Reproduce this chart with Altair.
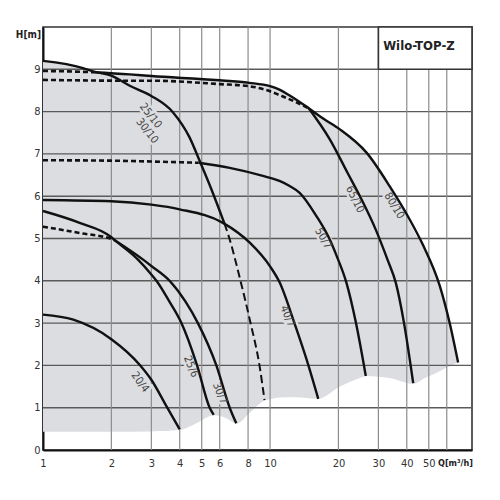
import altair as alt
import pandas as pd

FONT = "DejaVu Sans Condensed, Liberation Sans Narrow, sans-serif"

# ---------------- data ----------------
x_ticks = [1, 2, 3, 4, 5, 6, 8, 10, 20, 30, 40, 50]
x_grid_full = [2, 3, 4, 5, 6, 8, 10, 20, 30]
x_grid_short = [40, 50, 60]
y_grid = [1, 2, 3, 4, 5, 6, 7, 8, 9]
y_ticks = [0, 1, 2, 3, 4, 5, 6, 7, 8, 9]

# grey operating field
area_q = [1, 1.5, 1.66, 2, 3, 4, 4.74, 5.65, 6.42, 7.1, 8.14, 9.45, 10, 11, 13, 16.3,
          20.3, 24.8, 26.4, 30, 33.6, 38, 42.7, 48, 54, 60, 67.3]
area_top = [9.2, 9.03, 8.95, 8.9, 8.84, 8.8, 8.77, 8.75, 8.73, 8.71, 8.68, 8.63, 8.6, 8.52,
            8.28, 7.93, 7.58, 7.2, 7.05, 6.65, 6.24, 5.78, 5.2, 4.75, 4.1, 3.3, 2.07]
area_bottom = [0.43, 0.43, 0.43, 0.43, 0.44, 0.47, 0.63, 0.82, 0.75, 0.62, 0.88, 1.17, 1.2, 1.24,
               1.25, 1.21, 1.5, 1.7, 1.75, 1.73, 1.7, 1.62, 1.56, 1.7, 1.82, 1.95, 2.07]

# curve segments
s20_4_q = [1, 1.36, 2, 2.67, 3, 3.5, 4.0]
s20_4_h = [3.2, 3.08, 2.62, 2.01, 1.66, 1.03, 0.49]

s25_6_q = [1, 1.45, 2, 2.07, 2.62, 3, 3.16, 3.61, 4.07, 4.77, 5.42, 5.65]
s25_6_h = [5.65, 5.37, 5.03, 4.96, 4.5, 4.15, 4.0, 3.5, 3.0, 2.0, 1.0, 0.83]

d30_7_q = [1, 1.45, 2, 2.07]
d30_7_h = [5.28, 5.13, 4.99, 4.96]
s30_7_q = [2.07, 2.76, 3, 3.61, 4.25, 4.81, 5.8, 6.64, 7.1]
s30_7_h = [4.96, 4.5, 4.35, 4.0, 3.5, 3.0, 2.0, 1.0, 0.63]

s40_7_q = [1, 2, 3, 4, 6.2, 8.14, 10, 11, 12.8, 14.5, 16.3]
s40_7_h = [5.91, 5.88, 5.8, 5.69, 5.37, 4.9, 4.34, 3.97, 3.0, 2.13, 1.21]

s25_10_q = [1, 1.5, 1.66, 2, 2.41, 3.0, 3.74, 4.42, 4.9, 5.52, 6.3]
s25_10_h = [9.2, 9.03, 8.95, 8.85, 8.61, 8.37, 7.98, 7.39, 6.83, 6.16, 5.35]
d25_10_q = [6.3, 6.64, 7.33, 8.14, 9.0, 9.45]
d25_10_h = [5.35, 4.98, 4.1, 3.08, 1.97, 1.18]

d50_7_q = [1, 2, 3, 4.85]
d50_7_h = [6.85, 6.84, 6.82, 6.79]
s50_7_q = [4.85, 6.64, 9.3, 11.0, 12.2, 13.5, 16.0, 18.3, 19.6, 21.7, 23.9, 26.4]
s50_7_h = [6.79, 6.67, 6.48, 6.36, 6.24, 6.08, 5.53, 4.98, 4.6, 3.95, 3.0, 1.75]

d65_10_q = [1, 2.41, 3, 6, 8.1, 10, 11, 12.2, 14.8]
d65_10_h = [8.75, 8.73, 8.73, 8.65, 8.6, 8.48, 8.39, 8.29, 8.08]
s65_10_q = [14.8, 18.3, 21.9, 25.3, 29.2, 32.9, 35.8, 38.9, 42.7]
s65_10_h = [8.08, 7.35, 6.56, 5.92, 5.21, 4.5, 3.95, 3.0, 1.58]

d80_10_q = [1, 1.3, 1.66]
d80_10_h = [8.96, 8.95, 8.93]
s80_10_q = [1.66, 2.41, 3, 4.9, 6, 8.1, 10, 11, 12.2, 14.8, 17.2, 20.3, 26.6, 33.6, 41.2,
            47.1, 55.9, 61.8, 67.3]
s80_10_h = [8.93, 8.88, 8.84, 8.77, 8.74, 8.68, 8.6, 8.52, 8.38, 8.08, 7.83, 7.58, 7.03,
            6.24, 5.45, 4.85, 3.88, 3.0, 2.07]

# curve labels
lab_text = ["25/10", "30/10", "50/7", "65/10", "80/10", "40/7", "25/6", "30/7", "20/4"]
lab_q = [2.97, 2.87, 17.1, 23.6, 35.1, 11.9, 4.47, 6.0, 2.67]
lab_h = [7.90, 7.54, 5.0, 5.92, 5.77, 3.16, 1.97, 1.34, 1.6]
lab_angle = [52, 52, 60, 64, 59, 68, 68, 68, 54]

title_text = "Wilo-TOP-Z"
y_title = "H[m]"
x_title = "Q[m³/h]"

# ---------------- build tables ----------------
def seg(name, q, h):
    return pd.DataFrame({"Q": q, "H": h, "seg": name})

solid = pd.concat([
    seg("20/4", s20_4_q, s20_4_h), seg("25/6", s25_6_q, s25_6_h),
    seg("30/7", s30_7_q, s30_7_h), seg("40/7", s40_7_q, s40_7_h),
    seg("25/10", s25_10_q, s25_10_h), seg("50/7", s50_7_q, s50_7_h),
    seg("65/10", s65_10_q, s65_10_h), seg("80/10", s80_10_q, s80_10_h),
], ignore_index=True)
dash_short = pd.concat([
    seg("30/7", d30_7_q, d30_7_h), seg("50/7", d50_7_q, d50_7_h),
    seg("65/10", d65_10_q, d65_10_h), seg("80/10", d80_10_q, d80_10_h),
], ignore_index=True)
dash_long = seg("25/10", d25_10_q, d25_10_h)
area_df = pd.DataFrame({"Q": area_q, "top": area_top, "bottom": area_bottom})
labels = pd.DataFrame({"t": lab_text, "Q": lab_q, "H": lab_h, "a": lab_angle})
box_df = pd.DataFrame({"Q": [30], "Q2": [77.5], "H": [9], "H2": [10]})
title_df = pd.DataFrame({"t": [title_text], "Q": [31.5], "H": [9.55]})
ylab_df = pd.DataFrame({"t": [y_title], "H": [9.8]})
xlab_df = pd.DataFrame({"t": [x_title]})
vg2_df = pd.DataFrame({"Q": x_grid_short, "H": [0] * 3, "H2": [9] * 3})

W, H = 429, 423
xs = alt.Scale(type="log", domain=[1, 77.5], nice=False)
ys = alt.Scale(domain=[0, 10], nice=False)

x_axis = alt.Axis(values=x_ticks, format="~g", grid=False, ticks=False, title=None,
                  labelFont=FONT, labelFontSize=11, labelColor="#333",
                  labelPadding=7, domainColor="#111", domainWidth=2, labelFlush=False)
y_axis = alt.Axis(values=y_ticks, grid=False, ticks=False, title=None,
                  labelFont=FONT, labelFontSize=11, labelColor="#333",
                  labelPadding=3, domainColor="#111", domainWidth=2)


def XQ(field="Q:Q"):
    return alt.X(field, scale=xs, axis=x_axis)


def YH(field="H:Q"):
    return alt.Y(field, scale=ys, axis=y_axis)


area = alt.Chart(area_df).mark_area(color="#dcdde0", interpolate="monotone").encode(
    x=XQ(), y=YH("top:Q"), y2="bottom:Q")

hgrid = alt.Chart(pd.DataFrame({"H": y_grid})).mark_rule(
    color="#5a5a5a", strokeWidth=1.4).encode(y=YH())
vgrid = alt.Chart(pd.DataFrame({"Q": x_grid_full})).mark_rule(
    color="#8c8c8c", strokeWidth=1.2).encode(x=XQ())
vgrid2 = alt.Chart(vg2_df).mark_rule(color="#8c8c8c", strokeWidth=1.2).encode(
    x=XQ(), y=YH(), y2="H2:Q")

box = alt.Chart(box_df).mark_rect(fill="white", stroke="#333", strokeWidth=1.6).encode(
    x=XQ(), x2="Q2:Q", y=YH(), y2="H2:Q")

halo = alt.Chart(labels).mark_text(
    font=FONT, fontSize=11, stroke="#dcdde0", strokeWidth=5, color="#dcdde0").encode(
    x=XQ(), y=YH(), text="t:N", angle=alt.Angle("a:Q", scale=None))

lines = alt.Chart(solid).mark_line(
    color="#111", strokeWidth=2.4, interpolate="monotone").encode(
    x=XQ(), y=YH(), detail="seg:N")
dashes = alt.Chart(dash_short).mark_line(
    color="#111", strokeWidth=2.6, strokeDash=[5, 3], interpolate="monotone").encode(
    x=XQ(), y=YH(), detail="seg:N")
dashes2 = alt.Chart(dash_long).mark_line(
    color="#111", strokeWidth=2.0, strokeDash=[8, 4], interpolate="monotone").encode(
    x=XQ(), y=YH())

texts = alt.Chart(labels).mark_text(font=FONT, fontSize=11, color="#444").encode(
    x=XQ(), y=YH(), text="t:N", angle=alt.Angle("a:Q", scale=None))

ttl = alt.Chart(title_df).mark_text(
    font=FONT, fontSize=13, fontWeight="bold", color="#222", align="left").encode(
    x=XQ(), y=YH(), text="t:N")
ylab = alt.Chart(ylab_df).mark_text(
    font=FONT, fontSize=10, fontWeight="bold", color="#222", align="right").encode(
    x=alt.value(-2), y=YH(), text="t:N")
xlab = alt.Chart(xlab_df).mark_text(
    font=FONT, fontSize=9, fontWeight="bold", color="#222", align="right").encode(
    x=alt.value(W + 1), y=alt.value(H + 13), text="t:N")

chart = alt.layer(area, hgrid, vgrid, vgrid2, box, halo, lines, dashes, dashes2, texts,
                  ttl, ylab, xlab).properties(
    width=W, height=H,
    autosize=alt.AutoSizeParams(type="none"),
    padding={"left": 35, "top": 19, "right": 20, "bottom": 30},
).configure_view(stroke="#333", strokeWidth=1.6)

chart.save("out.html", embed_options={"renderer": "svg", "actions": False})
